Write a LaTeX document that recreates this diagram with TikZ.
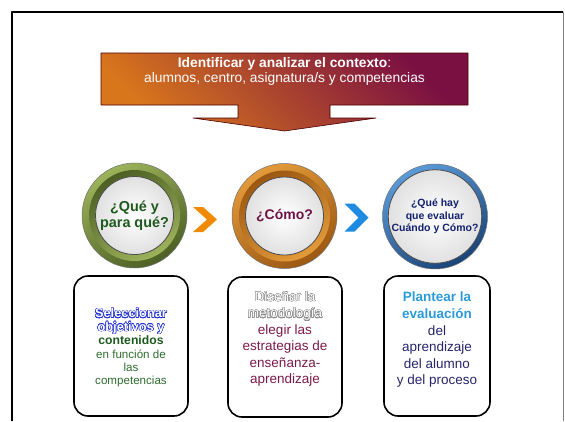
\documentclass[tikz,border=0pt]{standalone}
\usepackage{fontspec}
\setmainfont{Liberation Sans}
\usepackage{contour}
\contourlength{0.45pt}
\definecolor{bannerorange}{HTML}{D8761C}
\definecolor{bannermid}{HTML}{B04530}
\definecolor{bannermaroon}{HTML}{7A1042}
\definecolor{chevorange}{HTML}{F08A00}
\definecolor{chevblue}{HTML}{1E8AE0}
\definecolor{qgreen}{HTML}{1E5A1E}
\definecolor{qmaroon}{HTML}{6E1245}
\definecolor{qnavy}{HTML}{14216E}
\definecolor{selblue}{HTML}{2233CC}
\definecolor{txtgreen}{HTML}{2E6B2E}
\definecolor{txtmaroon}{HTML}{7A1A4A}
\definecolor{evblue}{HTML}{2A9AD8}
\definecolor{txtnavy}{HTML}{26246A}
\definecolor{greenlight}{HTML}{9CB25A}
\definecolor{greendark}{HTML}{4C6024}
\definecolor{orangelight}{HTML}{E39A3A}
\definecolor{orangedark}{HTML}{9C5812}
\definecolor{bluelight}{HTML}{5A9AD8}
\definecolor{bluedark}{HTML}{1A4478}
\tikzset{
	ring/.style={circle, inner sep=0pt, minimum size=105pt, draw=black!55, line width=0.5pt},
	bevel/.style={circle, inner sep=0pt, minimum size=91pt},
	knob/.style={circle, inner sep=0pt, minimum size=78pt, draw=black!70, line width=0.8pt,
		inner color=white, outer color=black!12, align=center, font=\bfseries},
	card/.style={draw=black, line width=1.6pt, rounded corners=14pt, minimum height=140pt},
	cardtext/.style={align=center, inner sep=0pt}
}
\begin{document}
\begin{tikzpicture}[x=1pt, y=-1pt, line cap=round, line join=round]
	\useasboundingbox (0,0) rectangle (565,421);
	% frame
	\draw[line width=1.6pt, line cap=butt] (12,421)--(12,12)--(563,12);
	\draw[black!50, line width=1pt, line cap=butt] (563,12)--(563,421);
	% banner
	\shade[top color=bannermaroon, middle color=bannermid, bottom color=bannerorange, shading angle=-45, draw=black!70!red, line width=0.6pt]
		(101,53)--(468,53)--(468,105)--(330,105)--(330,118)--(376,118)--(284.5,131)
		--(193,118)--(238,118)--(238,105)--(101,105)--cycle;
	\node[align=center, text=white, font=\fontsize{13.8}{15}\selectfont] (ctx) at (284.5,71)
		{\textbf{Identificar y analizar el contexto}:\\alumnos, centro, asignatura/s y competencias};
	% rings
	\node[ring, top color=greenlight, bottom color=greendark, shading angle=30] (ring1) at (134.5,215.5) {};
	\node[bevel, top color=greendark, bottom color=greenlight, shading angle=30] at (ring1) {};
	\node[knob, text=qgreen, font=\bfseries\fontsize{14.4}{16}\selectfont] (q1) at (ring1) {¿Qué y\\para qué?};
	\node[ring, top color=orangelight, bottom color=orangedark, shading angle=30] (ring2) at (284.5,216) {};
	\node[bevel, top color=orangedark, bottom color=orangelight, shading angle=30] at (ring2) {};
	\node[knob, text=qmaroon, font=\bfseries\fontsize{14}{16}\selectfont] (q2) at (ring2) {¿Cómo?};
	\node[ring, top color=bluelight, bottom color=bluedark, shading angle=30] (ring3) at (435,216.5) {};
	\node[bevel, top color=bluedark, bottom color=bluelight, shading angle=30] at (ring3) {};
	\node[knob, text=qnavy, font=\bfseries\fontsize{10.5}{12.5}\selectfont] (q3) at (ring3) {¿Qué hay\\que evaluar\\Cuándo y Cómo?};
	% chevrons
	\coordinate (ch1) at (205,219.5);
	\coordinate (ch2) at (356.5,217.5);
	\fill[chevorange, shift={(ch1)}] (-12,-12.5)--(-2,-12.5)--(12,0)--(-2,12.5)--(-12,12.5)--(2,0)--cycle;
	\fill[chevblue, shift={(ch2)}] (-12,-14)--(-2,-14)--(12,0)--(-2,14)--(-12,14)--(2,0)--cycle;
	% cards
	\node[card, minimum width=114pt] (card1) at (131,346) {};
	\node[card, minimum width=114pt] (card2) at (285,347) {};
	\node[card, minimum width=106pt] (card3) at (437,346) {};
	\node[cardtext, text=txtgreen, font=\fontsize{11.6}{13.4}\selectfont] (sel) at ([yshift=-2pt]card1.center)
		{\fontsize{12.8}{13.4}\selectfont\bfseries\contour{selblue}{\textcolor{white}{Seleccionar}}\\
		\fontsize{12.8}{13.4}\selectfont\bfseries\contour{selblue}{\textcolor{white}{objetivos y}}\\
		\fontsize{12.2}{13.4}\selectfont\bfseries\textcolor{qgreen}{contenidos}\\
		en función de\\las\\competencias};
	\node[cardtext, text=txtmaroon, font=\fontsize{13.5}{16.4}\selectfont] (met) at ([yshift=8pt]card2.center)
		{\contour{black!45}{\textcolor{white}{Diseñar la}}\\
		\contour{black!45}{\textcolor{white}{metodología}}\\
		elegir las\\estrategias de\\enseñanza-\\aprendizaje};
	\node[cardtext, text=txtnavy, font=\fontsize{13.5}{16.6}\selectfont] (eva) at ([yshift=6pt]card3.center)
		{\textbf{\textcolor{evblue}{Plantear la}}\\
		\textbf{\textcolor{evblue}{evaluación}}\\
		del\\aprendizaje\\del alumno\\y del proceso};
\end{tikzpicture}
\end{document}
